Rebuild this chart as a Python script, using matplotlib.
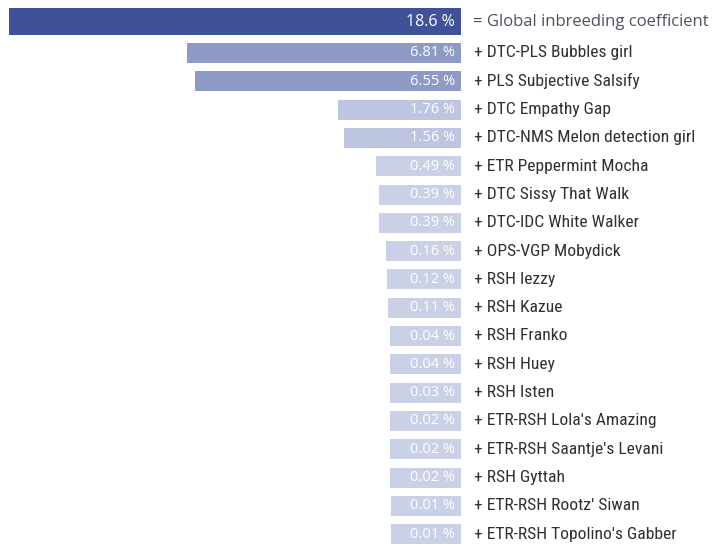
"""Inbreeding coefficient contributions"""

import matplotlib.pyplot as plt
import numpy as np
from matplotlib import font_manager

# データ
global_label = "= Global inbreeding coefficient"
global_value = 18.6

ancestors = [
    "DTC-PLS Bubbles girl",
    "PLS Subjective Salsify",
    "DTC Empathy Gap",
    "DTC-NMS Melon detection girl",
    "ETR Peppermint Mocha",
    "DTC Sissy That Walk",
    "DTC-IDC White Walker",
    "OPS-VGP Mobydick",
    "RSH Iezzy",
    "RSH Kazue",
    "RSH Franko",
    "RSH Huey",
    "RSH Isten",
    "ETR-RSH Lola's Amazing",
    "ETR-RSH Saantje's Levani",
    "RSH Gyttah",
    "ETR-RSH Rootz' Siwan",
    "ETR-RSH Topolino's Gabber",
]
contrib = [6.81, 6.55, 1.76, 1.56, 0.49, 0.39, 0.39, 0.16, 0.12, 0.11,
           0.04, 0.04, 0.03, 0.02, 0.02, 0.02, 0.01, 0.01]

# フォント選択
available = {f.name for f in font_manager.fontManager.ttflist}


def pick(cands):
    for c in cands:
        if c in available:
            return c
    return "DejaVu Sans"


label_font = pick(["Roboto Condensed", "Liberation Sans Narrow", "Roboto"])
value_font = pick(["Open Sans", "Lato"])

# 図 (ピクセル座標の軸)
fig = plt.figure(figsize=(7.28, 5.5), dpi=100)
ax = fig.add_axes([0, 0, 1, 1])
ax.set_xlim(0, 728)
ax.set_ylim(550, 0)
ax.axis("off")

right = 461
base_w = 70
scale = 30.0
max_w = 452


def bar_width(v):
    return np.minimum(base_w + scale * np.asarray(v), max_w)


def bar_color(v):
    if v > 5:
        return "#8e9ac6"
    if v > 1:
        return "#bec5e1"
    return "#cad0e6"


# 全体の近交係数
gw = bar_width(global_value)
ax.barh(21.5, -gw, left=right, height=27, color="#3e5199")
ax.text(right - 6, 21.5, f"{global_value:.1f} %", ha="right", va="center",
        color="white", fontsize=11.5, family=value_font)
ax.text(473, 21.5, global_label, ha="left", va="center",
        color="#4c5260", fontsize=12, family=value_font)

# 祖先ごとの寄与
ys = 53 + 28.3 * np.arange(len(contrib))
widths = bar_width(contrib)
ax.barh(ys, -widths, left=right, height=20,
        color=[bar_color(v) for v in contrib])
for y, v, name in zip(ys, contrib, ancestors):
    ax.text(right - 6, y, f"{v:.2f} %", ha="right", va="center",
            color="white", fontsize=10.5, family=value_font)
    ax.text(474, y, f"+ {name}", ha="left", va="center",
            color="#303030", fontsize=12.6, family=label_font)

fig.savefig("out.png", dpi=100)
